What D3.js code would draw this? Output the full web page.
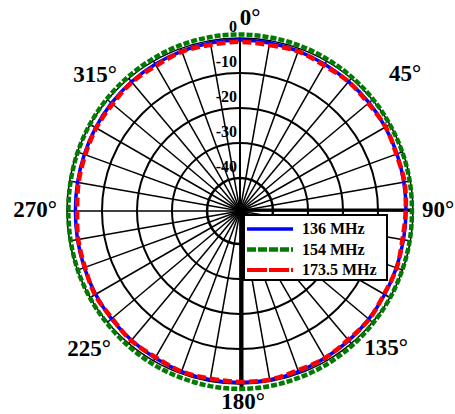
<!DOCTYPE html>
<html><head><meta charset="utf-8">
<script src="https://cdn.jsdelivr.net/npm/d3@7"></script>
<style>
body{margin:0;background:#fff}
text{font-family:"Liberation Serif","Times New Roman",serif;font-weight:bold;fill:#000}
</style>
</head><body><svg id="c" width="455" height="414"></svg>
<script>
// ---- data ----
const angles = [0,10,20,30,40,50,60,70,80,90,100,110,120,130,140,150,160,170,
                180,190,200,210,220,230,240,250,260,270,280,290,300,310,320,330,340,350];
const mhz136 = [-0.6,-0.7,-0.8,-1.0,-1.2,-1.3,-1.5,-1.7,-1.9,-2.0,-2.0,-1.9,-1.7,-1.4,-1.1,-0.9,-0.6,-0.5,
                -0.4,-0.5,-0.6,-0.9,-1.2,-1.5,-1.8,-2.1,-2.3,-2.4,-2.3,-2.1,-1.8,-1.5,-1.2,-1.0,-0.8,-0.7];
const mhz154 = [1.0,0.9,0.8,0.6,0.4,0.2,0.0,-0.1,-0.2,-0.3,-0.2,-0.1,0.1,0.3,0.6,0.9,1.1,1.3,
                1.4,1.3,1.1,0.9,0.6,0.3,0.1,-0.1,-0.3,-0.4,-0.3,-0.1,0.1,0.3,0.5,0.7,0.9,1.0];
const mhz173 = [-1.1,-1.3,-0.9,-1.4,-1.2,-1.6,-1.4,-1.9,-1.7,-2.1,-2.3,-1.8,-1.9,-1.3,-1.4,-0.9,-1.0,-0.5,
                -0.6,-0.8,-0.6,-1.2,-1.1,-1.7,-1.6,-2.3,-2.5,-2.9,-2.6,-2.4,-2.0,-1.9,-1.4,-1.5,-1.0,-1.2];
const seriesNames = ["136 MHz","154 MHz","173.5 MHz"];
const ringTicks = [0,-10,-20,-30,-40];
const ringLabels = ["0","-10","-20","-30","-40"];
const angleTicks = [0,45,90,135,180,225,270,315];
const angleTickLabels = ["0°","45°","90°","135°","180°","225°","270°","315°"];
const spokeAngles = [0,10,20,30,40,50,60,70,80,90,100,110,120,130,140,150,160,170,
                     180,190,200,210,220,230,240,250,260,270,280,290,300,310,320,330,340,350];

// ---- layout ----
const cx = 240, cy = 211;
const svg = d3.select("#c");
const g = svg.append("g").attr("transform", `translate(${cx},${cy})`);
const r = d3.scaleLinear().domain([-40, 0]).range([33, 173]);
const a = d3.scaleLinear().domain([0, 360]).range([0, 2 * Math.PI]);
const px = (deg, rad) => rad * Math.sin(a(deg));
const py = (deg, rad) => -rad * Math.cos(a(deg));

// rings
g.selectAll("circle.ring").data(ringTicks).join("circle")
  .attr("r", d => r(d)).attr("fill", "none").attr("stroke", "#000")
  .attr("stroke-width", d => d === -40 ? 2.5 : (d === 0 ? 1.5 : 2));

// spokes
g.selectAll("line.spoke").data(spokeAngles).join("line")
  .attr("x1", 0).attr("y1", 0)
  .attr("x2", d => px(d, r(0))).attr("y2", d => py(d, r(0)))
  .attr("stroke", "#000").attr("stroke-width", 1.5);

// main axes
g.append("line").attr("x1", 0).attr("y1", 0).attr("x2", 0).attr("y2", -r(0))
  .attr("stroke", "#000").attr("stroke-width", 2);
g.append("line").attr("x1", 1.5).attr("y1", 0).attr("x2", 1.5).attr("y2", r(0) + 5)
  .attr("stroke", "#000").attr("stroke-width", 4);
g.append("line").attr("x1", 0).attr("y1", -1).attr("x2", r(0) - 2).attr("y2", -1)
  .attr("stroke", "#000").attr("stroke-width", 3);

// ring labels
g.selectAll("text.rl").data(ringTicks).join("text")
  .attr("x", -3).attr("y", d => -r(d) - 6)
  .attr("text-anchor", "end").attr("font-size", 16)
  .text((d, i) => ringLabels[i]);

// curves
const line = d3.lineRadial().curve(d3.curveCatmullRomClosed)
  .angle((d, i) => a(angles[i])).radius(d => r(d));

g.append("path").attr("d", line(mhz154)).attr("fill", "none")
  .attr("stroke", "#007a00").attr("stroke-width", 4.5).attr("stroke-dasharray", "6 2");
g.append("path").attr("d", line(mhz136)).attr("fill", "none")
  .attr("stroke", "#0000ff").attr("stroke-width", 3.5);
g.append("path").attr("d", line(mhz173)).attr("fill", "none")
  .attr("stroke", "#ff0000").attr("stroke-width", 4.5).attr("stroke-dasharray", "9 4");

// legend
const lg = svg.append("g");
lg.append("rect").attr("x", 244).attr("y", 215).attr("width", 143).attr("height", 65)
  .attr("fill", "#fff").attr("stroke", "#000").attr("stroke-width", 2);
const legendStyles = [
  {c: "#0000ff", w: 3.5, dash: null},
  {c: "#007a00", w: 4.5, dash: "9 2"},
  {c: "#ff0000", w: 4, dash: "20 2"}
];
seriesNames.forEach((name, i) => {
  const yy = 229 + i * 20.5;
  const s = legendStyles[i];
  lg.append("line").attr("x1", 247).attr("x2", 293).attr("y1", yy).attr("y2", yy)
    .attr("stroke", s.c).attr("stroke-width", s.w)
    .attr("stroke-dasharray", s.dash);
  lg.append("text").attr("x", 302).attr("y", yy + 5).attr("font-size", 16).text(name);
});

// angle labels
const nudge = {0:[10,3.5],45:[25,2],90:[0,-2],135:[6,-4],180:[3,-8],225:[-11,-3],270:[-7,-2],315:[-5,3]};
g.selectAll("text.al").data(angleTicks).join("text")
  .attr("x", d => px(d, 198) + nudge[d][0])
  .attr("y", d => py(d, 198) + nudge[d][1])
  .attr("dy", "0.35em").attr("text-anchor", "middle").attr("font-size", 23)
  .text((d, i) => angleTickLabels[i]);
</script>
</body></html>
